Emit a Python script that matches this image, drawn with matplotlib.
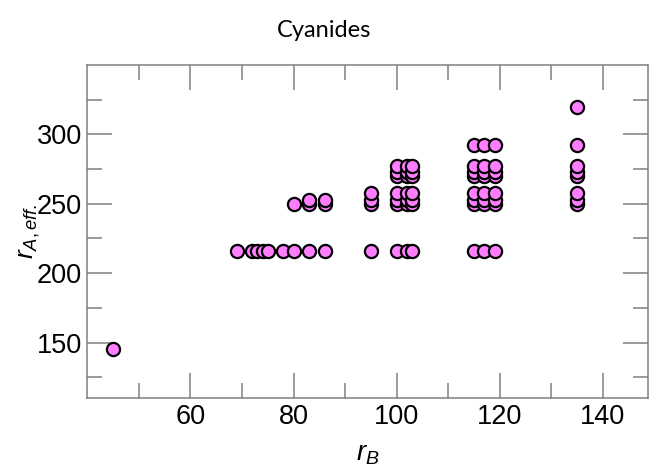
import matplotlib
matplotlib.use("Agg")
import matplotlib.pyplot as plt
from matplotlib.ticker import FixedLocator

# B-site radius (x) and effective A-site radius (y), read column by column
r_b = [45,
       69, 72, 73, 74, 75, 78,
       80, 80,
       83, 83, 83,
       86, 86, 86,
       95, 95, 95, 95,
       100, 100, 100, 100, 100, 100, 100,
       102, 102, 102, 102, 102, 102, 102,
       103, 103, 103, 103, 103, 103, 103,
       115, 115, 115, 115, 115, 115, 115, 115,
       117, 117, 117, 117, 117, 117, 117, 117,
       119, 119, 119, 119, 119, 119, 119, 119,
       135, 135, 135, 135, 135, 135, 135, 135]
r_a_eff = [145,
           216, 216, 216, 216, 216, 216,
           216, 250,
           216, 250, 253,
           216, 250, 253,
           216, 250, 253, 258,
           216, 250, 253, 258, 270, 273, 277,
           216, 250, 253, 258, 270, 273, 277,
           216, 250, 253, 258, 270, 273, 277,
           216, 250, 253, 258, 270, 273, 277, 292,
           216, 250, 253, 258, 270, 273, 277, 292,
           216, 250, 253, 258, 270, 273, 277, 292,
           250, 253, 258, 270, 273, 277, 292, 320]

x_major = [60, 80, 100, 120, 140]
x_minor = [50, 70, 90, 110, 130]
y_major = [150, 200, 250, 300]
y_minor = [125, 175, 225, 275, 325]

plt.rcParams['mathtext.fontset'] = 'custom'
plt.rcParams['mathtext.it'] = 'Liberation Sans:italic'
plt.rcParams['mathtext.rm'] = 'Liberation Sans'

fig = plt.figure(figsize=(6.49, 4.70), dpi=100)
ax = fig.add_axes([0.1345, 0.153, 0.8645, 0.709])

ax.scatter(r_b, r_a_eff, s=90, c='#ff7dff', edgecolors='black',
           linewidths=1.6, zorder=3)

ax.set_xlim(40, 148.8)
ax.set_ylim(110, 350)
ax.xaxis.set_major_locator(FixedLocator(x_major))
ax.xaxis.set_minor_locator(FixedLocator(x_minor))
ax.yaxis.set_major_locator(FixedLocator(y_major))
ax.yaxis.set_minor_locator(FixedLocator(y_minor))

grey = '#808080'
for sp in ax.spines.values():
    sp.set_color(grey)
    sp.set_linewidth(1.1)
ax.tick_params(which='both', direction='in', top=True, right=True,
               color=grey, width=1.1, labelsize=19.5, pad=4)
ax.tick_params(which='major', length=18)
ax.tick_params(which='minor', length=11)
for lab in ax.get_xticklabels() + ax.get_yticklabels():
    lab.set_family('Liberation Sans')

ax.set_xlabel(r'$r_B$', fontsize=20, labelpad=7)
ax.set_ylabel(r'$r_{A,eff.}$', fontsize=19, labelpad=-4)
fig.text(0.5, 0.935, 'Cyanides', ha='center', va='center',
         fontsize=17, family='Lato')

fig.savefig('out.png', dpi=100)
